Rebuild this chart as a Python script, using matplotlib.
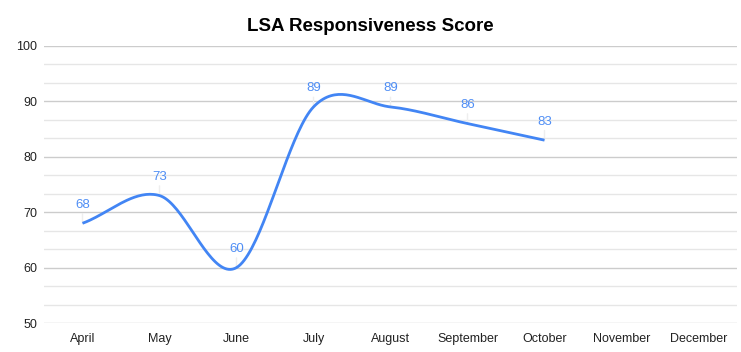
import numpy as np
import matplotlib.pyplot as plt
from matplotlib.ticker import MultipleLocator

# data
months = ['April', 'May', 'June', 'July', 'August', 'September', 'October', 'November', 'December']
scores = [68, 73, 60, 89, 89, 86, 83]

BLUE = '#4285f4'

plt.rcParams['font.family'] = ['Liberation Sans', 'DejaVu Sans']

fig = plt.figure(figsize=(7.41, 3.52), dpi=100)
ax = fig.add_axes([44 / 741, 1 - 323 / 352, 693 / 741, 277 / 352])


# smooth curve through the points (Catmull-Rom style hermite spline)
def smooth(y, steps=40):
    y = np.asarray(y, dtype=float)
    n = len(y)
    m = np.zeros(n)
    m[1:-1] = (y[2:] - y[:-2]) / 2
    m[0] = y[1] - y[0]
    m[-1] = y[-1] - y[-2]
    xs, ys = [], []
    for i in range(n - 1):
        t = np.linspace(0, 1, steps, endpoint=(i == n - 2))
        h00 = 2 * t**3 - 3 * t**2 + 1
        h10 = t**3 - 2 * t**2 + t
        h01 = -2 * t**3 + 3 * t**2
        h11 = t**3 - t**2
        xs.append(i + t)
        ys.append(h00 * y[i] + h10 * m[i] + h01 * y[i + 1] + h11 * m[i + 1])
    return np.concatenate(xs), np.concatenate(ys)


sx, sy = smooth(scores)
ax.plot(sx, sy, color=BLUE, lw=2, zorder=3, solid_capstyle='butt')

for i, v in enumerate(scores):
    ax.annotate(str(v), xy=(i, v), xytext=(0, 9), textcoords='offset points',
                ha='center', va='bottom', color='#4f8ef5', fontsize=9.5,
                arrowprops=dict(arrowstyle='-', color='#eeeeee', lw=1,
                                shrinkA=0, shrinkB=0, relpos=(0.5, 0)),
                zorder=2)

ax.set_xlim(-0.5, len(months) - 0.5)
ax.set_ylim(50, 100)
ax.set_xticks(range(len(months)))
ax.set_xticklabels(months)
ax.yaxis.set_major_locator(MultipleLocator(10))
ax.yaxis.set_minor_locator(MultipleLocator(10 / 3))
ax.grid(axis='y', which='major', color='#cccccc', lw=1)
ax.grid(axis='y', which='minor', color='#e6e6e6', lw=1)
ax.set_axisbelow(True)
ax.tick_params(axis='both', which='both', length=0, labelsize=9, colors='#222222')
ax.tick_params(axis='x', pad=7)
ax.tick_params(axis='y', pad=5)
for s in ax.spines.values():
    s.set_visible(False)

fig.suptitle('LSA Responsiveness Score', fontsize=13.5, fontweight='bold', y=0.95)

fig.savefig('out.png', dpi=100)
